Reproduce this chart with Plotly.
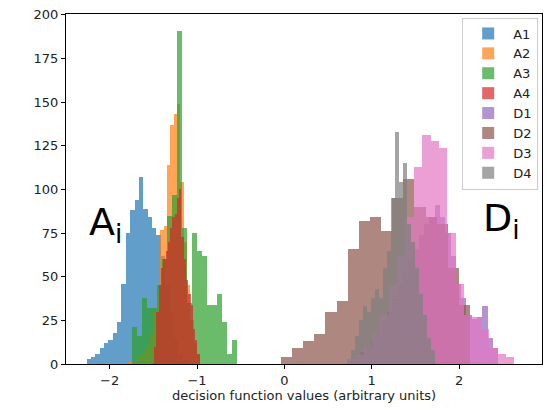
import plotly.graph_objects as go

# ---------------- data ----------------
series_names = ["A1", "A2", "A3", "A4", "D1", "D2", "D3", "D4"]

A1_start, A1_width = -2.265, 0.05
A1_counts = [3, 4, 6, 9, 12, 14, 18, 24, 46, 75, 88, 94, 107, 89, 84, 78, 74, 62, 45, 30, 15, 6, 2]

A2_start, A2_width = -1.802, 0.0381
A2_counts = [1, 2, 2, 4, 5, 8, 12, 18, 30, 40, 77, 79, 114, 137, 143, 149, 104, 70, 45, 25, 12, 5]

A3_start, A3_width = -1.745, 0.0575
A3_counts = [21, 16, 38, 32, 32, 45, 60, 85, 97, 191, 78, 35, 75, 65, 62, 34, 34, 40, 24, 6, 14]

A4_start, A4_width = -1.49, 0.026
A4_counts = [10, 30, 45, 55, 60, 65, 70, 78, 84, 86, 95, 100, 73, 60, 48, 40, 34, 20, 14, 6]

D1_start, D1_width = 0.75, 0.0607
D1_counts = [2, 4, 7, 10, 14, 18, 24, 30, 38, 45, 52, 60, 66, 74, 80, 84, 91, 84, 75, 62,
             46, 38, 28, 26, 27, 33, 15, 9]

D2_start, D2_width = -0.04, 0.1275
D2_counts = [4, 9, 13, 17, 30, 36, 66, 82, 84, 76, 95, 106, 90, 84, 80, 55, 34]

D3_start, D3_width = 0.7185, 0.0955
D3_counts = [3, 5, 10, 18, 28, 45, 62, 84, 113, 131, 128, 124, 75, 46, 28, 27, 20, 9, 6, 4]

D4_start, D4_width = 0.72, 0.0458
D4_counts = [3, 8, 16, 25, 33, 30, 38, 43, 38, 55, 65, 95, 133, 104, 115, 80, 70, 55, 40, 28, 15, 8]

x_ticks = [-2, -1, 0, 1, 2]
x_tick_labels = ["\u22122", "\u22121", "0", "1", "2"]
y_ticks = [0, 25, 50, 75, 100, 125, 150, 175, 200]
x_label = "decision function values (arbitrary units)"

# ---------------- styling ----------------
colors = ["#1f77b4", "#ff7f0e", "#2ca02c", "#d62728",
          "#9467bd", "#8c564b", "#e377c2", "#7f7f7f"]
FONT = "DejaVu Sans, Liberation Sans, sans-serif"
FS = 13

hists = [
    (A1_start, A1_width, A1_counts),
    (A2_start, A2_width, A2_counts),
    (A3_start, A3_width, A3_counts),
    (A4_start, A4_width, A4_counts),
    (D1_start, D1_width, D1_counts),
    (D2_start, D2_width, D2_counts),
    (D3_start, D3_width, D3_counts),
    (D4_start, D4_width, D4_counts),
]

fig = go.Figure()
for name, color, (start, width, counts) in zip(series_names, colors, hists):
    centers = [start + width * (i + 0.5) for i in range(len(counts))]
    fig.add_trace(go.Bar(
        x=centers, y=counts, width=width, name=name,
        marker=dict(color=color, line=dict(width=0)),
        opacity=0.7, legendgroup=name,
    ))

fig.update_layout(
    width=547, height=408,
    margin=dict(l=66, r=5, t=14, b=44, autoexpand=False),
    paper_bgcolor="white", plot_bgcolor="white",
    barmode="overlay", bargap=0,
    font=dict(family=FONT, size=FS, color="#222"),
    showlegend=True,
    legend=dict(
        x=0.992, y=0.99, xanchor="right", yanchor="top",
        bgcolor="rgba(255,255,255,0.8)", bordercolor="#cccccc", borderwidth=1,
        font=dict(family=FONT, size=FS, color="#222"),
        tracegroupgap=1, traceorder="normal", itemwidth=40,
    ),
    xaxis=dict(
        range=[-2.50, 2.95], tickvals=x_ticks, ticktext=x_tick_labels,
        showline=True, linecolor="black", linewidth=1, mirror=True,
        ticks="outside", ticklen=4, tickcolor="black", tickwidth=1,
        showgrid=False, zeroline=False, automargin=False,
        title=dict(text=x_label, font=dict(family=FONT, size=FS, color="#222"), standoff=2),
    ),
    yaxis=dict(
        range=[0, 200.5], tickvals=y_ticks,
        showline=True, linecolor="black", linewidth=1, mirror=True,
        ticks="outside", ticklen=4, tickcolor="black", tickwidth=1,
        showgrid=False, zeroline=False, automargin=False,
    ),
    annotations=[
        dict(text="A<sub>i</sub>", x=-2.26, y=64.5, xref="x", yref="y",
             xanchor="left", yanchor="bottom", showarrow=False,
             font=dict(family=FONT, size=38, color="black")),
        dict(text="D<sub>i</sub>", x=2.25, y=67, xref="x", yref="y",
             xanchor="left", yanchor="bottom", showarrow=False,
             font=dict(family=FONT, size=38, color="black")),
    ],
)

fig.write_html("out.html",
               config={"displayModeBar": False},
               post_script="document.body.style.margin='0';document.body.style.padding='0';")
